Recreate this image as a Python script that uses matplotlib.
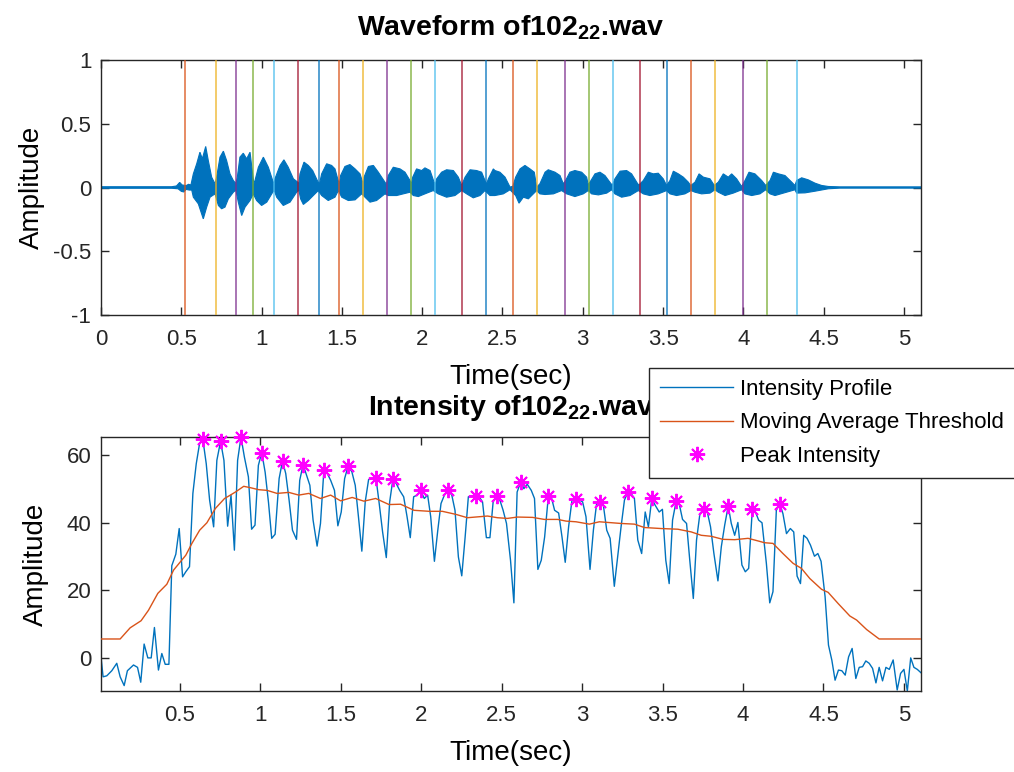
import numpy as np
import matplotlib
matplotlib.use("Agg")
import matplotlib.pyplot as plt

plt.rcParams['font.family'] = ['Liberation Sans', 'DejaVu Sans']
plt.rcParams['mathtext.fontset'] = 'custom'
plt.rcParams['mathtext.rm'] = 'Liberation Sans'
plt.rcParams['mathtext.bf'] = 'Liberation Sans:bold'
plt.rcParams['axes.unicode_minus'] = False

# ---------------- data ----------------
# waveform envelope (upper / lower)
wave_top_t = [0.0, 0.44, 0.47, 0.49, 0.505, 0.53, 0.545, 0.56,
              0.575, 0.596, 0.616, 0.631, 0.652, 0.668, 0.689, 0.710,
              0.720, 0.741, 0.762, 0.782, 0.803, 0.824, 0.840,
              0.849, 0.865, 0.886, 0.907, 0.928, 0.944, 0.952,
              0.959, 0.980, 1.011, 1.042, 1.069, 1.078,
              1.083, 1.115, 1.139, 1.166, 1.198, 1.225, 1.232,
              1.239, 1.264, 1.291, 1.318, 1.347, 1.360,
              1.374, 1.405, 1.436, 1.457, 1.474, 1.484,
              1.492, 1.519, 1.550, 1.582, 1.613, 1.629, 1.634,
              1.638, 1.665, 1.696, 1.727, 1.768, 1.777,
              1.789, 1.820, 1.862, 1.893, 1.924, 1.932,
              1.941, 1.965, 1.997, 2.017, 2.049, 2.074, 2.082,
              2.090, 2.121, 2.152, 2.194, 2.225, 2.246,
              2.267, 2.298, 2.339, 2.370, 2.391, 2.400,
              2.412, 2.443, 2.453, 2.484, 2.516, 2.547, 2.565,
              2.582, 2.609, 2.640, 2.671, 2.698, 2.713,
              2.733, 2.765, 2.785, 2.827, 2.858, 2.879,
              2.893, 2.920, 2.951, 2.993, 3.024, 3.034,
              3.051, 3.076, 3.107, 3.138, 3.176, 3.185,
              3.200, 3.232, 3.273, 3.304, 3.342, 3.350,
              3.377, 3.408, 3.439, 3.470, 3.501, 3.522,
              3.543, 3.564, 3.595, 3.626, 3.657, 3.672,
              3.699, 3.724, 3.751, 3.792, 3.819,
              3.844, 3.875, 3.906, 3.927, 3.958, 3.989,
              4.010, 4.035, 4.072, 4.114, 4.139,
              4.166, 4.187, 4.218, 4.259, 4.301, 4.321,
              4.332, 4.363, 4.404, 4.446, 4.487, 4.529, 4.600, 5.106]
wave_top_a = [0.006, 0.006, 0.012, 0.040, 0.020, 0.015, 0.025, 0.020,
              0.107, 0.186, 0.277, 0.225, 0.322, 0.212, 0.081, 0.029,
              0.081, 0.238, 0.285, 0.212, 0.107, 0.055, 0.030,
              0.081, 0.238, 0.269, 0.225, 0.277, 0.107, 0.030,
              0.055, 0.159, 0.238, 0.159, 0.055, 0.025,
              0.068, 0.173, 0.217, 0.159, 0.068, 0.042, 0.025,
              0.107, 0.199, 0.173, 0.133, 0.055, 0.025,
              0.107, 0.186, 0.173, 0.146, 0.068, 0.025,
              0.094, 0.165, 0.180, 0.146, 0.107, 0.042, 0.025,
              0.081, 0.165, 0.173, 0.120, 0.042, 0.025,
              0.094, 0.159, 0.146, 0.120, 0.055, 0.025,
              0.081, 0.146, 0.133, 0.154, 0.133, 0.042, 0.025,
              0.068, 0.120, 0.139, 0.133, 0.081, 0.016,
              0.081, 0.139, 0.133, 0.120, 0.055, 0.025,
              0.068, 0.146, 0.133, 0.120, 0.081, 0.003, 0.010,
              0.081, 0.146, 0.173, 0.146, 0.120, 0.003,
              0.029, 0.120, 0.139, 0.120, 0.094, 0.029,
              0.055, 0.120, 0.133, 0.120, 0.081, 0.020,
              0.055, 0.107, 0.120, 0.094, 0.029, 0.020,
              0.068, 0.128, 0.133, 0.107, 0.029, 0.020,
              0.055, 0.120, 0.107, 0.112, 0.068, 0.016,
              0.055, 0.128, 0.107, 0.081, 0.042, 0.015,
              0.042, 0.107, 0.081, 0.068, 0.016,
              0.042, 0.107, 0.081, 0.107, 0.068, 0.008,
              0.055, 0.120, 0.107, 0.055, 0.016,
              0.055, 0.120, 0.107, 0.094, 0.042, 0.016,
              0.055, 0.076, 0.060, 0.034, 0.016, 0.008, 0.005, 0.005]

wave_bot_t = [0.0, 0.44, 0.48, 0.50, 0.515, 0.53, 0.55, 0.565,
              0.575, 0.606, 0.637, 0.658, 0.679, 0.710,
              0.731, 0.751, 0.772, 0.793, 0.824, 0.840,
              0.855, 0.876, 0.897, 0.928, 0.948,
              0.969, 1.000, 1.032, 1.063, 1.078,
              1.094, 1.135, 1.177, 1.218, 1.232,
              1.243, 1.260, 1.291, 1.322, 1.353,
              1.374, 1.415, 1.457, 1.478,
              1.499, 1.540, 1.582, 1.623,
              1.644, 1.675, 1.716, 1.768,
              1.789, 1.841, 1.882, 1.924,
              1.945, 1.976, 2.017, 2.069,
              2.100, 2.152, 2.204, 2.246,
              2.277, 2.318, 2.360, 2.391,
              2.422, 2.453, 2.505, 2.547,
              2.582, 2.603, 2.630, 2.661, 2.692, 2.713,
              2.733, 2.765, 2.817, 2.868,
              2.900, 2.951, 3.003, 3.034,
              3.055, 3.097, 3.149, 3.180,
              3.200, 3.242, 3.294, 3.346,
              3.377, 3.418, 3.470, 3.522,
              3.543, 3.584, 3.636, 3.674,
              3.699, 3.740, 3.792, 3.823,
              3.844, 3.886, 3.937, 3.989,
              4.010, 4.052, 4.103, 4.139,
              4.166, 4.197, 4.249, 4.321,
              4.332, 4.384, 4.446, 4.529, 4.600, 5.106]
wave_bot_a = [-0.006, -0.006, -0.010, -0.030, -0.035, -0.015, -0.020, -0.020,
              -0.076, -0.128, -0.246, -0.154, -0.076, -0.050,
              -0.141, -0.167, -0.154, -0.089, -0.037, -0.020,
              -0.115, -0.220, -0.154, -0.102, -0.050,
              -0.102, -0.141, -0.115, -0.050, -0.020,
              -0.076, -0.141, -0.115, -0.037, -0.020,
              -0.089, -0.133, -0.102, -0.063, -0.024,
              -0.063, -0.102, -0.076, -0.024,
              -0.076, -0.102, -0.097, -0.050,
              -0.076, -0.115, -0.102, -0.050,
              -0.063, -0.063, -0.050, -0.037,
              -0.063, -0.071, -0.050, -0.024,
              -0.050, -0.076, -0.063, -0.024,
              -0.050, -0.081, -0.063, -0.024,
              -0.063, -0.063, -0.050, -0.018,
              -0.063, -0.123, -0.076, -0.089, -0.050, -0.024,
              -0.050, -0.055, -0.050, -0.024,
              -0.050, -0.071, -0.050, -0.024,
              -0.050, -0.058, -0.044, -0.018,
              -0.050, -0.076, -0.063, -0.024,
              -0.050, -0.063, -0.050, -0.024,
              -0.050, -0.063, -0.050, -0.024,
              -0.037, -0.050, -0.044, -0.018,
              -0.037, -0.063, -0.044, -0.018,
              -0.050, -0.063, -0.050, -0.018,
              -0.050, -0.063, -0.044, -0.018,
              -0.044, -0.042, -0.029, -0.010, -0.005, -0.005]

# segment boundaries (vertical lines)
boundaries = [0.523, 0.714, 0.842, 0.948, 1.077, 1.227, 1.356, 1.482, 1.631,
              1.779, 1.928, 2.078, 2.250, 2.397, 2.567, 2.717, 2.887, 3.037,
              3.186, 3.356, 3.526, 3.676, 3.825, 3.996, 4.145, 4.336]

# intensity profile
int_t = [0.010, 0.023, 0.046, 0.077, 0.108, 0.129, 0.154, 0.174, 0.212, 0.237,
         0.257, 0.278, 0.301, 0.322, 0.342, 0.367, 0.388, 0.409, 0.432, 0.450,
         0.475, 0.496, 0.517, 0.537, 0.560, 0.581, 0.602, 0.623, 0.643, 0.664,
         0.685, 0.710, 0.730, 0.753, 0.774, 0.797, 0.818, 0.839, 0.859, 0.880,
         0.901, 0.926, 0.946, 0.967, 0.988, 1.009, 1.030, 1.051, 1.071, 1.092,
         1.117, 1.138, 1.158, 1.179, 1.200, 1.225, 1.245, 1.266, 1.287, 1.308,
         1.328, 1.353, 1.374, 1.395, 1.416, 1.437, 1.461, 1.482, 1.503, 1.524,
         1.546, 1.569, 1.590, 1.611, 1.631, 1.652, 1.673, 1.694, 1.719, 1.739,
         1.760, 1.783, 1.804, 1.824, 1.845, 1.866, 1.891, 1.912, 1.932, 1.953,
         1.974, 1.996, 2.019, 2.040, 2.059, 2.082, 2.103, 2.123, 2.144, 2.167,
         2.190, 2.210, 2.231, 2.252, 2.273, 2.293, 2.314, 2.339, 2.360, 2.381,
         2.405, 2.427, 2.447, 2.468, 2.489, 2.509, 2.530, 2.555, 2.576, 2.596,
         2.619, 2.638, 2.659, 2.684, 2.704, 2.725, 2.746, 2.767, 2.790, 2.808,
         2.829, 2.854, 2.875, 2.895, 2.916, 2.937, 2.962, 2.983, 3.003, 3.024,
         3.049, 3.070, 3.090, 3.111, 3.132, 3.153, 3.174, 3.200, 3.221, 3.242,
         3.263, 3.283, 3.304, 3.325, 3.346, 3.370, 3.392, 3.412, 3.433, 3.454,
         3.479, 3.499, 3.520, 3.541, 3.562, 3.585, 3.603, 3.624, 3.649, 3.669,
         3.691, 3.711, 3.732, 3.758, 3.778, 3.798, 3.819, 3.844, 3.865, 3.886,
         3.908, 3.927, 3.948, 3.968, 3.993, 4.014, 4.035, 4.058, 4.077, 4.097,
         4.118, 4.145, 4.166, 4.186, 4.207, 4.228, 4.248, 4.270, 4.294, 4.315,
         4.336, 4.357, 4.377, 4.398, 4.419, 4.444, 4.465, 4.485, 4.510, 4.531,
         4.552, 4.572, 4.593, 4.614, 4.635, 4.656, 4.678, 4.701, 4.722, 4.743,
         4.763, 4.784, 4.805, 4.826, 4.846, 4.867, 4.888, 4.909, 4.933, 4.958,
         4.979, 5.000, 5.021, 5.042, 5.062, 5.083, 5.106]
int_v = [0.3, -5.6, -5.3, -3.8, -1.6, -5.6, -8.2, -3.8, -2.1, -2.8,
         -7.2, 4.1, 0.0, 0.0, 9.0, -3.6, 1.3, -1.9, -1.9, 27.3,
         30.7, 38.3, 24.0, 25.5, 27.0, 48.7, 57.5, 63.6, 64.7, 57.5,
         46.7, 38.8, 58.5, 64.1, 58.5, 39.0, 48.2, 31.9, 58.5, 65.4,
         59.5, 53.6, 38.1, 39.3, 57.0, 60.8, 55.0, 46.0, 35.4, 36.6,
         53.1, 58.3, 54.6, 46.7, 37.8, 35.1, 52.6, 57.2, 54.1, 51.1,
         40.8, 33.1, 39.8, 55.5, 54.6, 52.6, 49.6, 39.1, 43.2, 53.1,
         56.8, 55.1, 51.1, 41.3, 31.6, 46.2, 52.8, 53.1, 53.2, 45.7,
         37.3, 29.7, 46.2, 52.9, 51.6, 49.6, 47.7, 41.8, 35.6, 47.7,
         48.2, 49.6, 47.2, 48.2, 41.8, 28.6, 37.8, 45.7, 48.2, 49.7,
         48.2, 43.7, 29.9, 24.3, 35.8, 47.7, 48.0, 47.9, 47.7, 46.2,
         35.6, 35.6, 46.2, 47.9, 46.7, 43.7, 39.8, 28.9, 16.3, 49.1,
         52.2, 50.1, 51.4, 49.6, 47.2, 26.2, 28.9, 35.8, 47.8, 47.7,
         43.7, 42.9, 35.8, 28.3, 38.8, 46.7, 47.1, 46.7, 46.2, 41.8,
         26.2, 37.8, 45.7, 46.1, 45.2, 37.8, 35.4, 21.2, 29.9, 38.8,
         46.7, 49.0, 48.7, 47.2, 34.9, 30.9, 43.2, 38.8, 47.2, 45.2,
         43.2, 44.0, 28.9, 22.0, 40.8, 46.6, 45.7, 41.0, 39.8, 28.9,
         17.6, 34.9, 42.7, 44.2, 43.2, 38.8, 30.9, 22.8, 32.9, 39.3,
         45.0, 39.8, 36.3, 40.1, 27.5, 25.5, 26.5, 44.2, 43.2, 40.8,
         40.0, 28.0, 16.3, 19.6, 43.7, 45.7, 42.7, 36.8, 38.3, 37.3,
         24.2, 22.0, 36.3, 35.4, 33.4, 30.1, 30.9, 28.6, 18.1, 3.8,
         -0.7, -6.6, -3.6, -3.8, -5.1, 0.3, 2.8, -6.1, -2.8, -2.6,
         -0.9, -1.6, -3.1, -7.4, -2.8, -6.8, -2.8, -3.4, -0.6, -9.5,
         -4.6, -3.4, -9.8, 0.0, -2.8, -3.4, -4.4]

# moving average threshold
ma_t = [0.010, 0.129, 0.191, 0.259, 0.305, 0.363, 0.419, 0.461, 0.537, 0.575,
        0.623, 0.668, 0.720, 0.778, 0.814, 0.845, 0.897, 0.938, 0.990, 1.042,
        1.104, 1.177, 1.239, 1.301, 1.374, 1.437, 1.499, 1.571, 1.644, 1.717,
        1.800, 1.872, 1.955, 2.049, 2.131, 2.215, 2.287, 2.412, 2.474, 2.536,
        2.598, 2.692, 2.765, 2.848, 2.900, 2.962, 3.045, 3.107, 3.242, 3.325,
        3.387, 3.491, 3.595, 3.678, 3.740, 3.803, 3.875, 3.948, 4.031, 4.072,
        4.134, 4.186, 4.248, 4.311, 4.363, 4.415, 4.488, 4.529, 4.591, 4.664,
        4.706, 4.768, 4.846, 5.106]
ma_v = [5.6, 5.6, 8.9, 11.0, 14.1, 19.1, 21.8, 26.0, 30.4, 33.9,
        37.8, 40.0, 44.2, 47.2, 48.2, 49.1, 50.8, 50.4, 49.8, 49.6,
        48.7, 49.0, 48.2, 48.7, 47.2, 48.2, 46.5, 47.5, 46.4, 47.2,
        45.4, 45.5, 43.7, 43.4, 43.4, 42.5, 41.5, 42.0, 41.5, 41.3,
        41.7, 41.6, 41.0, 41.0, 40.5, 40.3, 39.6, 40.3, 39.8, 39.6,
        38.6, 38.3, 38.1, 37.3, 36.3, 36.0, 35.1, 35.0, 35.4, 34.9,
        34.1, 33.9, 30.9, 28.0, 26.5, 23.5, 20.3, 19.4, 16.1, 12.4,
        11.2, 8.4, 5.6, 5.6]

# detected peaks
peak_t = [0.643, 0.753, 0.880, 1.009, 1.138, 1.266, 1.395, 1.546, 1.719, 1.824,
          1.996, 2.167, 2.339, 2.468, 2.619, 2.790, 2.962, 3.111, 3.283, 3.433,
          3.585, 3.758, 3.908, 4.058, 4.228]
peak_v = [64.7, 64.1, 65.4, 60.8, 58.3, 57.2, 55.5, 56.8, 53.2, 52.9,
          49.6, 49.7, 47.9, 47.9, 52.2, 47.8, 47.1, 46.1, 49.0, 47.2,
          46.6, 44.2, 45.0, 44.2, 45.7]

duration = 5.106

# ---------------- style ----------------
BLUE = '#0072BD'
ORANGE = '#D95319'
line_colors = ['#D95319', '#EDB120', '#7E2F8E', '#77AC30', '#4DBEEE',
               '#A2142F', '#0072BD']
AXC = '#262626'

fig = plt.figure(figsize=(10.14, 7.72), dpi=100)
ax1 = fig.add_axes([101/1014, 1-315/772, 820/1014, 255/772])
ax2 = fig.add_axes([101/1014, 1-691/772, 820/1014, 254/772])

def style(ax):
    for s in ax.spines.values():
        s.set_color(AXC)
        s.set_linewidth(1.0)
    ax.tick_params(direction='in', length=6, width=1.0, colors=AXC,
                   top=True, right=True, labelsize=16)
    ax.tick_params(axis='x', pad=10)
    ax.tick_params(axis='y', pad=7)
    for lab in ax.get_xticklabels() + ax.get_yticklabels():
        lab.set_color('#262626')

# --- waveform ---
poly_t = np.concatenate([wave_top_t, wave_bot_t[::-1]])
poly_a = np.concatenate([wave_top_a, wave_bot_a[::-1]])
ax1.fill(poly_t, poly_a, color=BLUE, lw=0.8, zorder=2)
for i, b in enumerate(boundaries):
    ax1.axvline(b, color=line_colors[i % len(line_colors)], lw=1.1,
                alpha=0.85, zorder=3)
ax1.set_xlim(0, duration)
ax1.set_ylim(-1, 1)
ax1.set_xticks(np.arange(0, 5.01, 0.5))
ax1.set_xticklabels(['0', '0.5', '1', '1.5', '2', '2.5', '3', '3.5', '4',
                     '4.5', '5'])
ax1.set_yticks([-1, -0.5, 0, 0.5, 1])
ax1.set_yticklabels(['-1', '-0.5', '0', '0.5', '1'])
style(ax1)
ax1.set_xlabel('Time(sec)', fontsize=20, labelpad=10)
ax1.set_ylabel('Amplitude', fontsize=20, labelpad=6)
ax1.set_title(r'Waveform of102$_{\mathbf{22}}$.wav', fontsize=20.5,
              fontweight='bold', pad=18)

# --- intensity ---
ax2.plot(int_t, int_v, color=BLUE, lw=1.0, label='Intensity Profile', zorder=2)
ax2.plot(ma_t, ma_v, color=ORANGE, lw=1.0, label='Moving Average Threshold',
         zorder=3)
ax2.plot(peak_t, peak_v, linestyle='none', marker=(8, 2, 0), ms=11, mew=1.4,
         color='#FF00FF', label='Peak Intensity', zorder=4, clip_on=False)
ax2.set_xlim(int_t[0], duration)
ax2.set_ylim(min(int_v), max(int_v))
ax2.set_xticks(np.arange(0.5, 5.01, 0.5))
ax2.set_xticklabels(['0.5', '1', '1.5', '2', '2.5', '3', '3.5', '4', '4.5', '5'])
ax2.set_yticks([0, 20, 40, 60])
style(ax2)
ax2.set_xlabel('Time(sec)', fontsize=20, labelpad=10)
ax2.set_ylabel('Amplitude', fontsize=20, labelpad=13)
ax2.set_title(r'Intensity of102$_{\mathbf{22}}$.wav', fontsize=20.5,
              fontweight='bold', pad=16)

leg = fig.legend(*ax2.get_legend_handles_labels(), loc='upper left',
                 bbox_to_anchor=(649/1014, 1-368/772), fontsize=16,
                 frameon=True, fancybox=False, framealpha=1, edgecolor=AXC,
                 handlelength=3.3, handletextpad=0.3, labelspacing=0.55,
                 borderpad=0.5, borderaxespad=0)
leg.get_frame().set_linewidth(1.0)
leg.set_zorder(10)

fig.savefig('out.png', dpi=100)
